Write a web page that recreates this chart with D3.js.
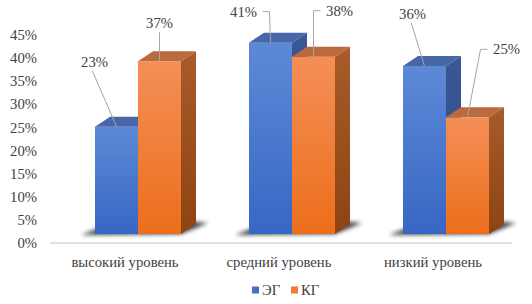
<!DOCTYPE html>
<html>
<head>
<meta charset="utf-8">
<script src="https://cdn.jsdelivr.net/npm/d3@7"></script>
<style>
  body { margin: 0; background: #fff; }
</style>
</head>
<body>
<div class="chart"></div>
<script>
// data
const categories = ["высокий уровень", "средний уровень", "низкий уровень"];
const seriesNames = ["ЭГ", "КГ"];
const egValues = [0.23, 0.41, 0.36];
const kgValues = [0.37, 0.38, 0.25];
const yTicks = [0, 0.05, 0.10, 0.15, 0.20, 0.25, 0.30, 0.35, 0.40, 0.45];

// label placement relative to top of bar (dx, dy, leader type)
const labelOffsets = [
    [[-22, -65, "straight"], [0, -38, "straight"]],
    [[-27, -31, "elbow"], [26, -46, "elbow"]],
    [[-12, -52, "straight"], [39, -68, "elbow"]]
];

const width = 532, height = 304;
const depthX = 15, depthY = -10; // 3d offset
const fontFamily = "Liberation Serif";
const fontSize = 14.7;
const textColor = "#404040";

const svg = d3.select(".chart").append("svg")
    .attr("width", width)
    .attr("height", height);

const defs = svg.append("defs");

function vGrad(id, top, bottom) {
    const g = defs.append("linearGradient").attr("id", id)
        .attr("x1", 0).attr("y1", 0).attr("x2", 0).attr("y2", 1);
    g.append("stop").attr("offset", "0%").attr("stop-color", top);
    g.append("stop").attr("offset", "100%").attr("stop-color", bottom);
}
vGrad("blueFront", "#5d89d6", "#3767c4");
vGrad("blueSide", "#3a5894", "#2a4a86");
vGrad("orangeFront", "#f48f57", "#ec6e1b");
vGrad("orangeSide", "#a95b2a", "#8d4412");

defs.append("filter").attr("id", "blur")
    .attr("x", "-20%").attr("y", "-50%").attr("width", "140%").attr("height", "200%")
    .append("feGaussianBlur").attr("stdDeviation", 2);

const colors = {
    "ЭГ": { front: "url(#blueFront)", side: "url(#blueSide)", top: "#4867a8", legend: "#4472c4" },
    "КГ": { front: "url(#orangeFront)", side: "url(#orangeSide)", top: "#bb6a3d", legend: "#ed7d31" }
};

function styleText(sel) {
    return sel.attr("font-family", fontFamily)
        .attr("font-size", fontSize)
        .attr("fill", textColor);
}

// scales
const yAxisScale = d3.scaleLinear().domain([0, 0.45]).range([243, 35]);
const yFront = d3.scaleLinear().domain([0, 0.45]).range([234, 24]);

const x0 = d3.scaleBand()
    .domain(categories)
    .range([61, 523])
    .paddingInner(68 / 154)
    .paddingOuter(34 / 154);

const x1 = d3.scaleBand()
    .domain(seriesNames)
    .range([0, x0.bandwidth()]);

// y axis labels
svg.append("g").selectAll("text")
    .data(yTicks)
    .enter().append("text")
    .attr("x", 37)
    .attr("y", d => yAxisScale(d))
    .attr("dy", "0.35em")
    .attr("text-anchor", "end")
    .call(styleText)
    .text(d3.format(".0%"));

// floor line
svg.append("line")
    .attr("x1", 50).attr("x2", 512)
    .attr("y1", yAxisScale(0)).attr("y2", yAxisScale(0))
    .attr("stroke", "#d9d9d9")
    .attr("stroke-width", 1.5);

const rows = categories.map((c, i) => ({
    cat: c,
    vals: [
        { s: "ЭГ", v: egValues[i] },
        { s: "КГ", v: kgValues[i] }
    ]
}));

const groups = svg.append("g").selectAll("g.group")
    .data(rows)
    .enter().append("g")
    .attr("class", "group")
    .attr("transform", d => `translate(${x0(d.cat)},0)`);

// shadows under the bars
groups.append("polygon")
    .attr("points", () => {
        const b = yFront(0), w = x0.bandwidth();
        return [[-14, b + 1], [w, b], [w + depthX + 12, b + depthY - 1], [w + depthX, b + depthY - 2], [depthX, b + depthY]].map(p => p.join(",")).join(" ");
    })
    .attr("fill", "#000")
    .attr("opacity", 0.75)
    .attr("filter", "url(#blur)");

// 3d boxes
groups.each(function(row) {
    const g = d3.select(this);
    row.vals.forEach(d => {
        const xl = x1(d.s), xr = xl + x1.bandwidth();
        const yt = yFront(d.v), yb = yFront(0);
        const c = colors[d.s];
        // side
        g.append("polygon")
            .attr("points", [[xr, yt], [xr + depthX, yt + depthY], [xr + depthX, yb + depthY], [xr, yb]].join(" "))
            .attr("fill", c.side);
        // front
        g.append("rect")
            .attr("x", xl).attr("y", yt)
            .attr("width", xr - xl).attr("height", yb - yt)
            .attr("fill", c.front);
        // top
        g.append("polygon")
            .attr("points", [[xl, yt], [xl + depthX, yt + depthY], [xr + depthX, yt + depthY], [xr, yt]].join(" "))
            .attr("fill", c.top);
    });
});

// data labels with leader lines
groups.each(function(row, i) {
    const g = d3.select(this);
    row.vals.forEach((d, j) => {
        const px = x1(d.s) + x1.bandwidth() / 2;
        const py = yFront(d.v);
        const [dx, dy, type] = labelOffsets[i][j];
        const tx = px + dx, ty = py + dy;
        let pts;
        if (type === "elbow") {
            const side = dx < 0 ? 1 : -1;
            const sx = tx + side * 19;
            pts = [[sx, ty], [sx + side * 7, ty], [px, py]];
        } else {
            pts = [[tx + dx * 0.1, ty + 9], [px, py]];
        }
        g.append("path")
            .attr("d", d3.line()(pts))
            .attr("fill", "none")
            .attr("stroke", "#a6a6a6")
            .attr("stroke-width", 1);
        g.append("text")
            .attr("x", tx)
            .attr("y", ty)
            .attr("dy", "0.35em")
            .attr("text-anchor", "middle")
            .call(styleText)
            .text(d3.format(".0%")(d.v));
    });
});

// category labels
svg.append("g").selectAll("text")
    .data(categories)
    .enter().append("text")
    .attr("x", d => x0(d) + x0.bandwidth() / 2 - 13)
    .attr("y", 262)
    .attr("dy", "0.35em")
    .attr("text-anchor", "middle")
    .call(styleText)
    .text(d => d);

// legend
const legend = svg.append("g").selectAll("g")
    .data(seriesNames)
    .enter().append("g")
    .attr("transform", (d, i) => `translate(${252 + i * 39},290)`);

legend.append("rect")
    .attr("x", 0).attr("y", -3.5)
    .attr("width", 7).attr("height", 7)
    .attr("fill", d => colors[d].legend);

legend.append("text")
    .attr("x", 10)
    .attr("y", 0)
    .attr("dy", "0.35em")
    .call(styleText)
    .text(d => d);
</script>
</body>
</html>
